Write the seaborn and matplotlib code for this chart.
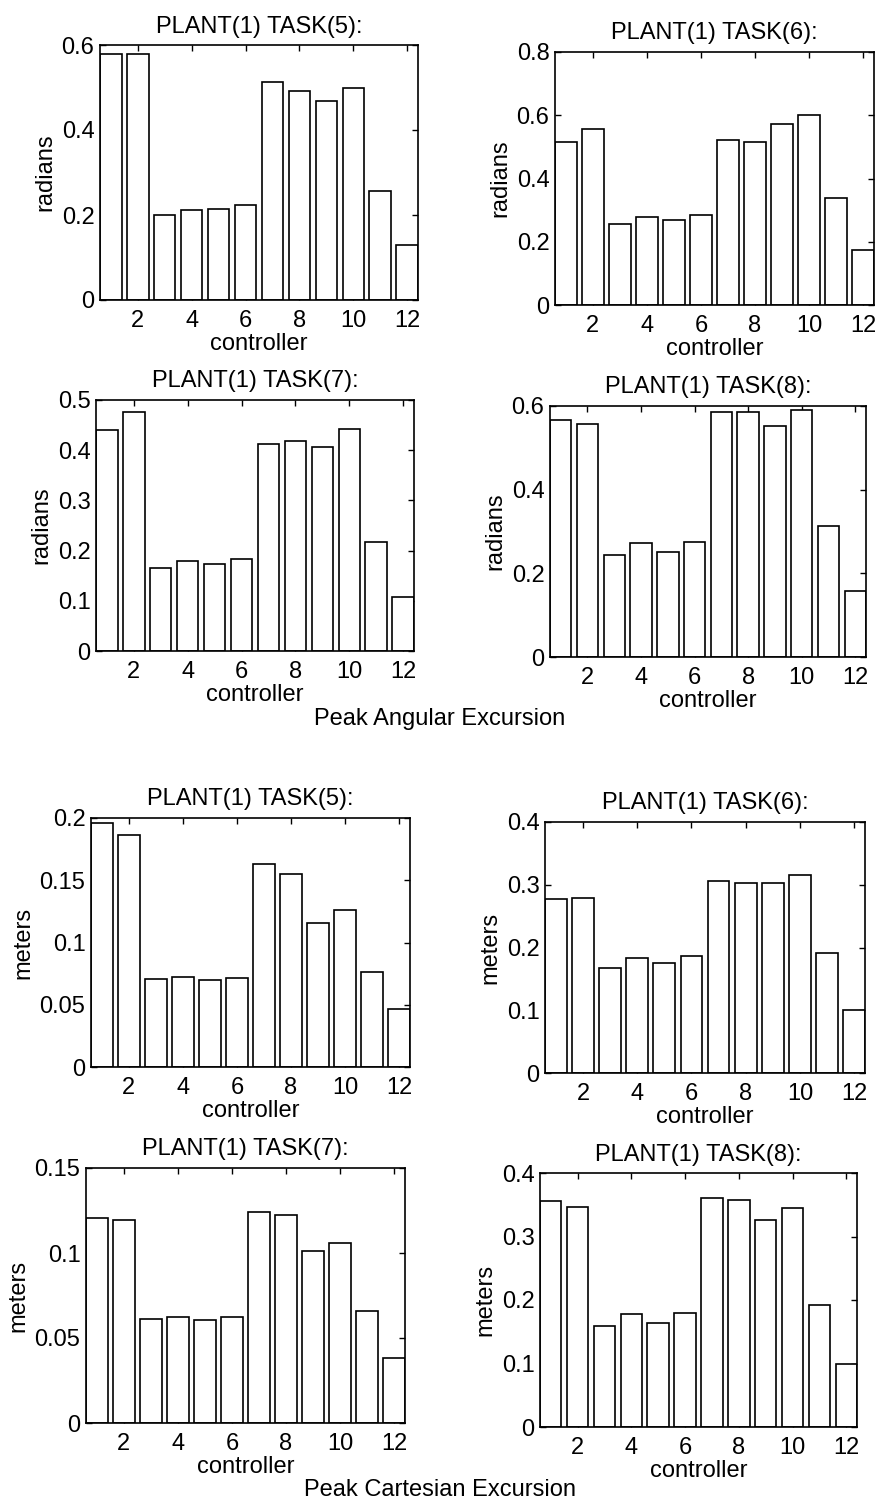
import matplotlib
matplotlib.use("Agg")
import matplotlib.pyplot as plt
from matplotlib.ticker import FuncFormatter
import seaborn as sns
import pandas as pd

# controller index shared by every panel
controllers = list(range(1, 13))

# Peak angular excursion (radians) for plant 1, tasks 5-8
angular_task5 = [0.579, 0.580, 0.200, 0.212, 0.214, 0.224, 0.514, 0.492, 0.469, 0.500, 0.257, 0.129]
angular_task6 = [0.514, 0.555, 0.256, 0.279, 0.268, 0.284, 0.523, 0.516, 0.571, 0.600, 0.339, 0.174]
angular_task7 = [0.440, 0.476, 0.165, 0.180, 0.173, 0.183, 0.412, 0.418, 0.407, 0.443, 0.217, 0.107]
angular_task8 = [0.566, 0.556, 0.244, 0.272, 0.250, 0.274, 0.586, 0.586, 0.552, 0.590, 0.312, 0.158]

# Peak cartesian excursion (meters) for plant 1, tasks 5-8
cartesian_task5 = [0.196, 0.186, 0.071, 0.072, 0.070, 0.0715, 0.163, 0.155, 0.116, 0.126, 0.0765, 0.0464]
cartesian_task6 = [0.278, 0.279, 0.167, 0.183, 0.176, 0.187, 0.306, 0.303, 0.303, 0.316, 0.191, 0.101]
cartesian_task7 = [0.1206, 0.1192, 0.061, 0.0622, 0.0606, 0.0622, 0.124, 0.1224, 0.101, 0.106, 0.066, 0.038]
cartesian_task8 = [0.356, 0.347, 0.159, 0.178, 0.164, 0.179, 0.360, 0.358, 0.326, 0.345, 0.192, 0.0995]

titles = ["PLANT(1) TASK(5):", "PLANT(1) TASK(6):", "PLANT(1) TASK(7):", "PLANT(1) TASK(8):"]
x_ticks = [2, 4, 6, 8, 10, 12]
group_captions = ["Peak Angular Excursion", "Peak Cartesian Excursion"]

sns.set_theme(style="ticks")
plt.rcParams.update({
    "font.family": ["Liberation Sans", "DejaVu Sans"],
    "font.size": 17,
    "axes.linewidth": 1.2,
    "xtick.direction": "in",
    "ytick.direction": "in",
    "xtick.top": True,
    "ytick.right": True,
    "xtick.major.size": 4,
    "ytick.major.size": 4,
    "xtick.major.width": 1.0,
    "ytick.major.width": 1.0,
    "xtick.major.pad": 7,
    "ytick.major.pad": 4,
    "xtick.labelsize": 17,
    "ytick.labelsize": 17,
    "axes.labelsize": 17,
    "axes.titlesize": 17,
    "axes.edgecolor": "black",
    "text.color": "black",
    "axes.labelcolor": "black",
    "xtick.color": "black",
    "ytick.color": "black",
})

W, H = 881, 1511
fig = plt.figure(figsize=(W / 100, H / 100), dpi=100)
fig.patch.set_facecolor("white")


def box(left, top, right, bottom):
    return [left / W, 1 - bottom / H, (right - left) / W, (bottom - top) / H]


panels = [
    (angular_task5, titles[0], "radians", 0.6, [0, 0.2, 0.4, 0.6], box(100, 45, 418, 300)),
    (angular_task6, titles[1], "radians", 0.8, [0, 0.2, 0.4, 0.6, 0.8], box(555, 52, 874, 305)),
    (angular_task7, titles[2], "radians", 0.5, [0, 0.1, 0.2, 0.3, 0.4, 0.5], box(96, 400, 414, 651)),
    (angular_task8, titles[3], "radians", 0.6, [0, 0.2, 0.4, 0.6], box(550, 406, 866, 657)),
    (cartesian_task5, titles[0], "meters", 0.2, [0, 0.05, 0.1, 0.15, 0.2], box(91, 818, 410, 1067)),
    (cartesian_task6, titles[1], "meters", 0.4, [0, 0.1, 0.2, 0.3, 0.4], box(545, 822, 865, 1073)),
    (cartesian_task7, titles[2], "meters", 0.15, [0, 0.05, 0.1, 0.15], box(86, 1168, 405, 1423)),
    (cartesian_task8, titles[3], "meters", 0.4, [0, 0.1, 0.2, 0.3, 0.4], box(540, 1173, 857, 1427)),
]

fmt = FuncFormatter(lambda v, _: f"{v:g}")

for values, title, ylabel, ymax, yticks, rect in panels:
    ax = fig.add_axes(rect)
    df = pd.DataFrame({"controller": controllers, "value": values})
    sns.barplot(data=df, x="controller", y="value", native_scale=True,
                color="white", edgecolor="black", linewidth=1.2,
                width=0.8, errorbar=None, ax=ax)
    ax.set_xlim(0.6, 12.4)
    ax.set_ylim(0, ymax)
    ax.set_xticks(x_ticks)
    ax.set_yticks(yticks)
    ax.yaxis.set_major_formatter(fmt)
    ax.set_title(title, pad=9)
    ax.set_xlabel("controller", labelpad=1)
    ax.set_ylabel(ylabel, labelpad=4)
    for s in ax.spines.values():
        s.set_visible(True)
        s.set_color("black")

fig.text(440 / W, 1 - 719 / H, group_captions[0], ha="center", va="center", fontsize=17)
fig.text(440 / W, 1 - 1490 / H, group_captions[1], ha="center", va="center", fontsize=17)

fig.savefig("out.png", dpi=100, facecolor="white")
